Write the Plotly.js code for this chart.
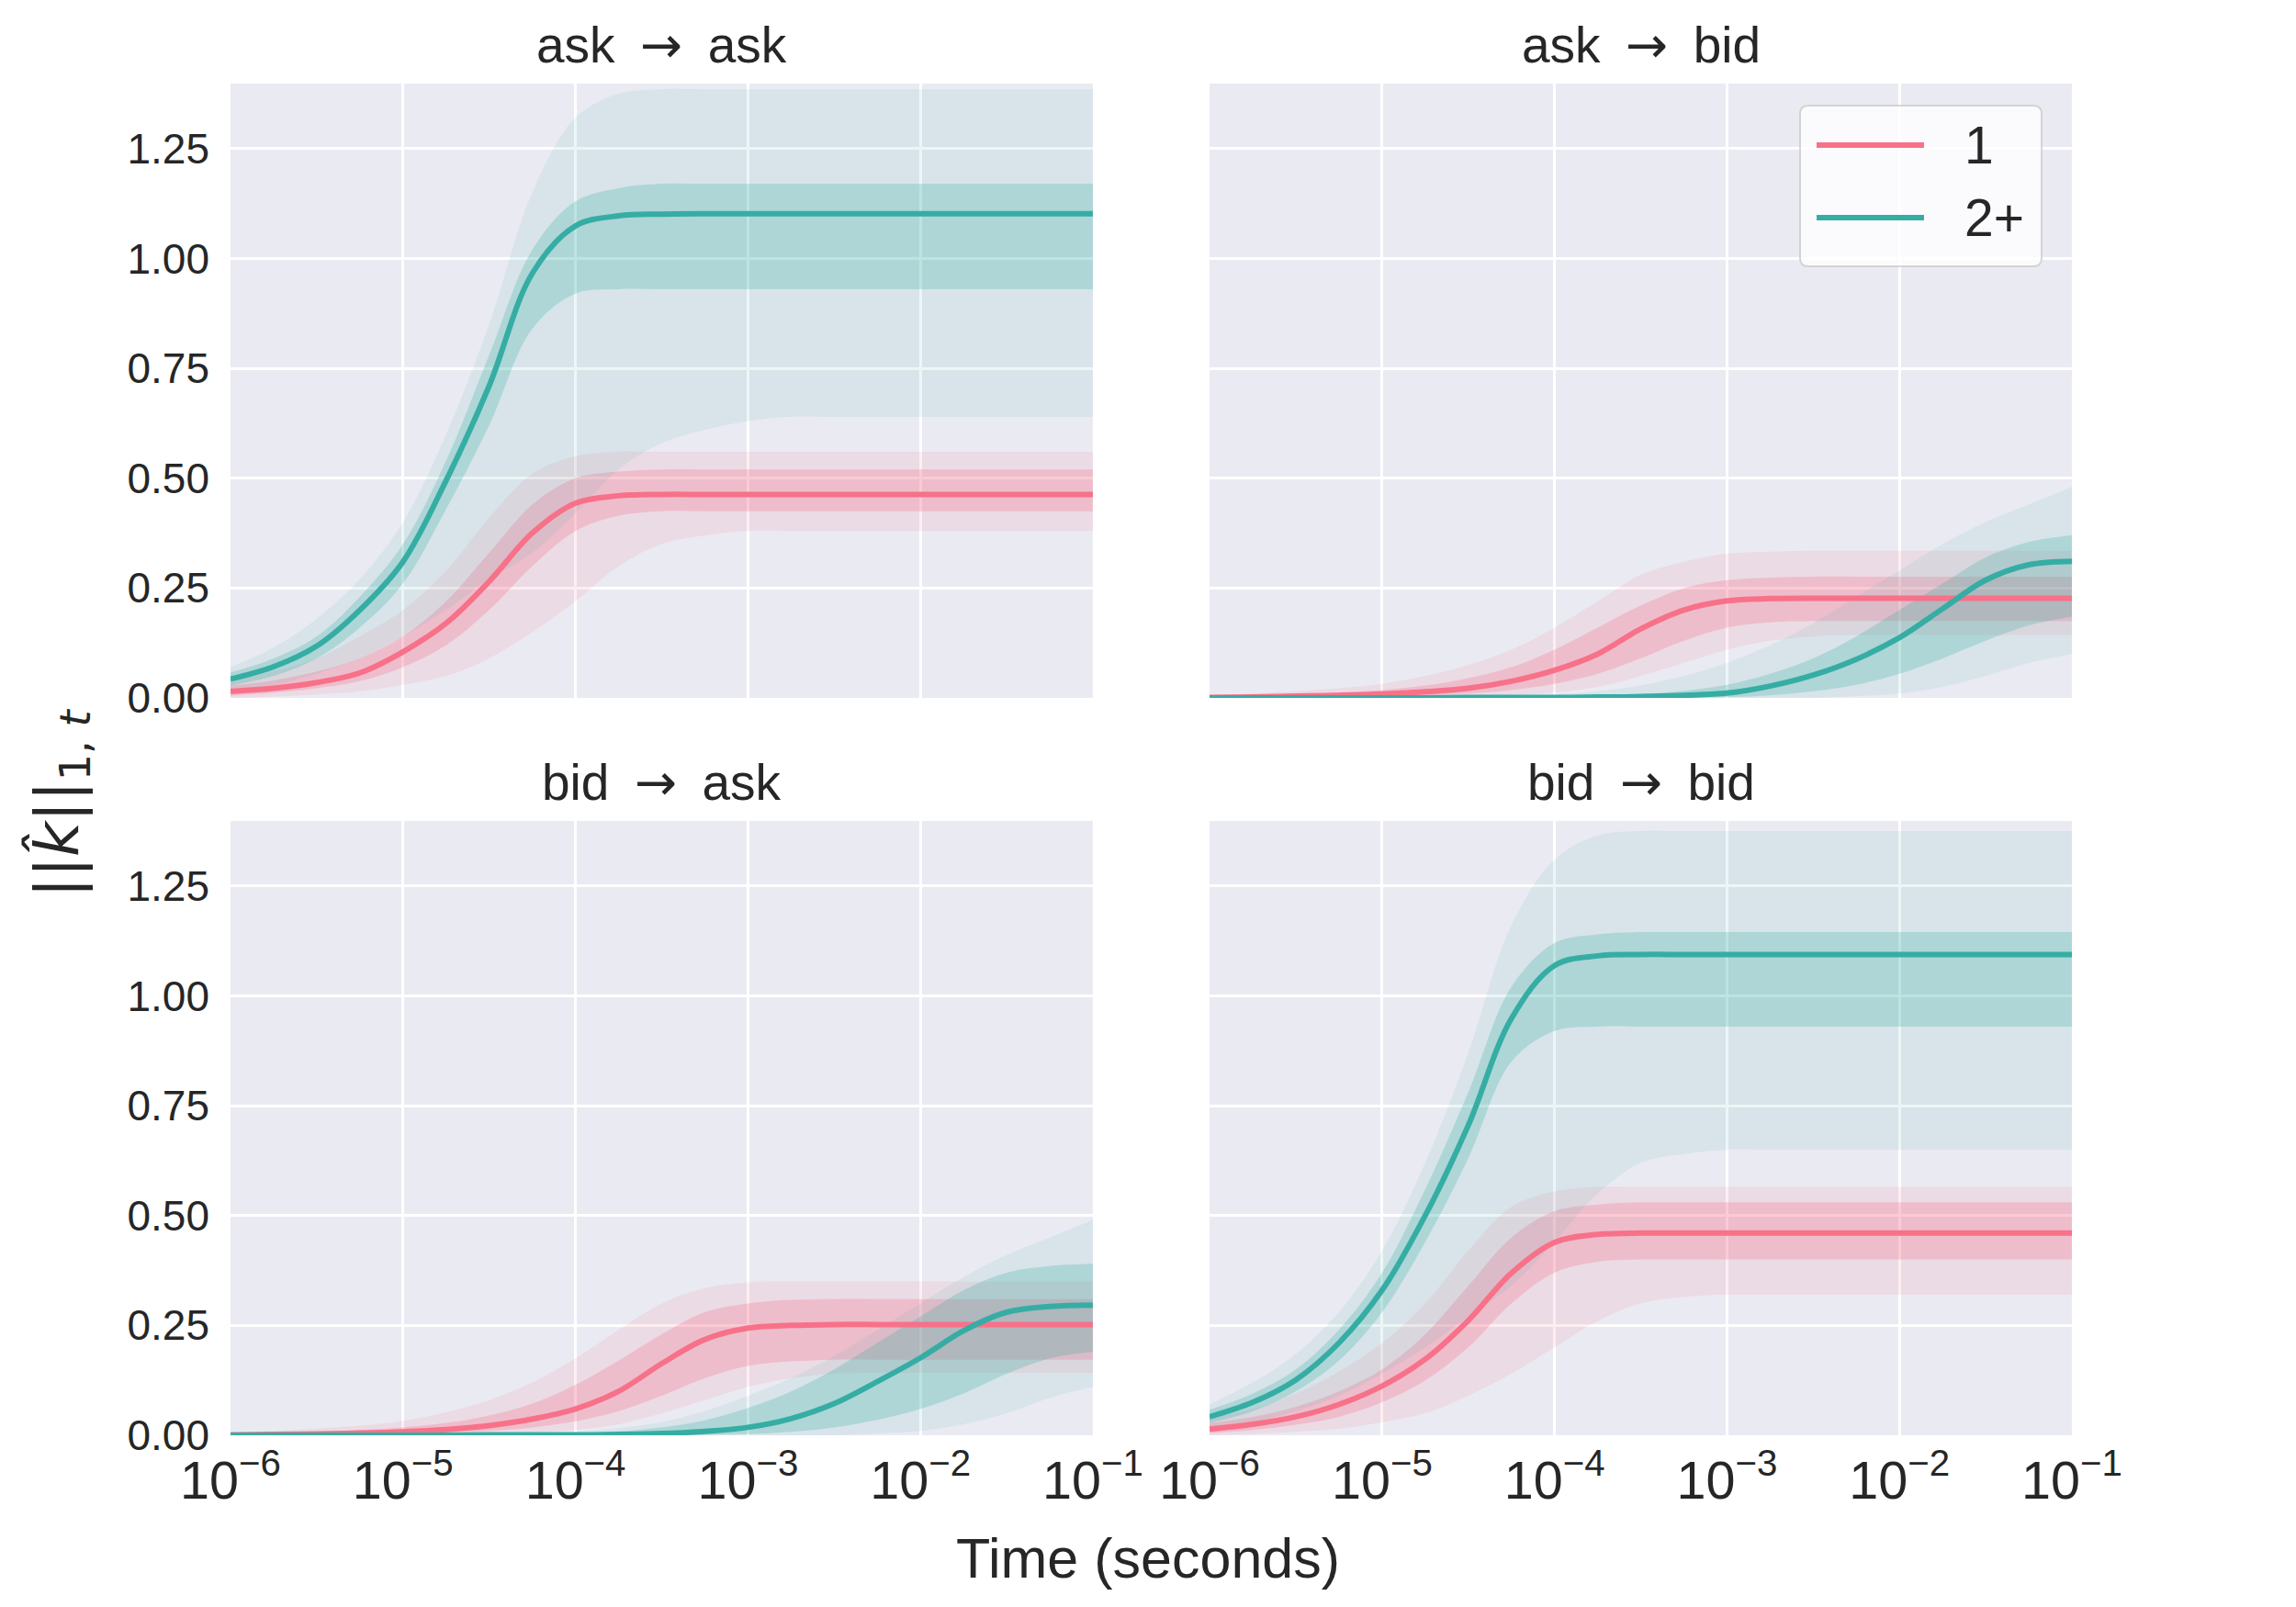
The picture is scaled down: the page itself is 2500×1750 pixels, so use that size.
<!DOCTYPE html>
<html>
<head>
<meta charset="utf-8">
<script src="https://cdn.plot.ly/plotly-3.0.1.min.js"></script>
<style>
  body { margin:0; padding:0; background:#ffffff; }
  #myDiv { width:2500px; height:1750px; }
</style>
</head>
<body>
<div id="myDiv"></div>
<script>
/**************************************************************/
/* data: quarter-decade time grid, 1e-6 .. 1e-1 s */
var time = [1e-6, 1.78e-6, 3.16e-6, 5.62e-6, 1e-5, 1.78e-5, 3.16e-5, 5.62e-5,
            1e-4, 1.78e-4, 3.16e-4, 5.62e-4, 1e-3, 1.78e-3, 3.16e-3, 5.62e-3,
            1e-2, 1.78e-2, 3.16e-2, 5.62e-2, 1e-1];

var panelFrom = ["ask", "ask", "bid", "bid"];
var panelTo = ["ask", "bid", "ask", "bid"];
var seriesNames = ["1", "2+"];

/* ask -> ask */
var aaMean1 = [0.015,0.022,0.035,0.057,0.105,0.170,0.265,0.375,0.443,0.460,0.463,0.463,0.463,0.463,0.463,0.463,0.463,0.463,0.463,0.463,0.463];
var aaCoreLo1 = [0.005,0.012,0.022,0.038,0.070,0.120,0.200,0.300,0.380,0.415,0.425,0.425,0.425,0.425,0.425,0.425,0.425,0.425,0.425,0.425,0.425];
var aaCoreHi1 = [0.028,0.040,0.060,0.090,0.140,0.220,0.330,0.440,0.500,0.515,0.520,0.520,0.520,0.520,0.520,0.520,0.520,0.520,0.520,0.520,0.520];
var aaOutLo1 = [0.000,0.003,0.008,0.015,0.030,0.050,0.090,0.150,0.220,0.300,0.350,0.370,0.380,0.380,0.380,0.380,0.380,0.380,0.380,0.380,0.380];
var aaOutHi1 = [0.040,0.060,0.090,0.140,0.200,0.290,0.410,0.510,0.550,0.560,0.560,0.560,0.560,0.560,0.560,0.560,0.560,0.560,0.560,0.560,0.560];
var aaMean2 = [0.043,0.071,0.118,0.200,0.310,0.495,0.710,0.966,1.074,1.097,1.101,1.102,1.102,1.102,1.102,1.102,1.102,1.102,1.102,1.102,1.102];
var aaCoreLo2 = [0.028,0.050,0.090,0.160,0.260,0.430,0.620,0.840,0.920,0.930,0.930,0.930,0.930,0.930,0.930,0.930,0.930,0.930,0.930,0.930,0.930];
var aaCoreHi2 = [0.058,0.090,0.140,0.230,0.350,0.540,0.780,1.020,1.130,1.160,1.170,1.170,1.170,1.170,1.170,1.170,1.170,1.170,1.170,1.170,1.170];
var aaOutLo2 = [0.015,0.030,0.055,0.090,0.140,0.200,0.270,0.330,0.420,0.520,0.580,0.610,0.630,0.640,0.640,0.640,0.640,0.640,0.640,0.640,0.640];
var aaOutHi2 = [0.070,0.115,0.180,0.270,0.400,0.600,0.850,1.150,1.320,1.375,1.385,1.385,1.385,1.385,1.385,1.385,1.385,1.385,1.385,1.385,1.385];

/* ask -> bid */
var abMean1 = [0.001,0.002,0.004,0.006,0.009,0.014,0.022,0.038,0.063,0.100,0.157,0.200,0.221,0.226,0.227,0.227,0.227,0.227,0.227,0.227,0.227];
var abCoreLo1 = [0.000,0.000,0.001,0.002,0.003,0.005,0.010,0.018,0.032,0.055,0.090,0.130,0.160,0.172,0.175,0.175,0.175,0.175,0.175,0.175,0.175];
var abCoreHi1 = [0.003,0.005,0.008,0.012,0.018,0.028,0.045,0.070,0.110,0.160,0.210,0.250,0.268,0.274,0.276,0.276,0.276,0.276,0.276,0.276,0.276];
var abOutLo1 = [0.000,0.000,0.000,0.000,0.000,0.001,0.003,0.006,0.012,0.025,0.050,0.080,0.110,0.130,0.140,0.143,0.143,0.143,0.143,0.143,0.143];
var abOutHi1 = [0.006,0.010,0.015,0.022,0.032,0.050,0.075,0.110,0.160,0.220,0.280,0.310,0.328,0.333,0.335,0.335,0.335,0.335,0.335,0.335,0.335];
var abMean2 = [0.000,0.000,0.000,0.000,0.000,0.000,0.001,0.001,0.001,0.002,0.003,0.006,0.011,0.027,0.052,0.088,0.137,0.203,0.268,0.303,0.311];
var abCoreLo2 = [0.000,0.000,0.000,0.000,0.000,0.000,0.000,0.000,0.000,0.000,0.000,0.001,0.002,0.006,0.015,0.030,0.055,0.090,0.130,0.165,0.185];
var abCoreHi2 = [0.001,0.001,0.001,0.001,0.001,0.001,0.001,0.002,0.002,0.004,0.008,0.016,0.030,0.055,0.090,0.140,0.200,0.260,0.320,0.355,0.370];
var abOutLo2 = [0.000,0.000,0.000,0.000,0.000,0.000,0.000,0.000,0.000,0.000,0.000,0.000,0.000,0.000,0.000,0.004,0.010,0.025,0.050,0.080,0.100];
var abOutHi2 = [0.001,0.001,0.001,0.001,0.002,0.002,0.003,0.005,0.008,0.015,0.028,0.050,0.080,0.120,0.170,0.230,0.290,0.350,0.400,0.440,0.480];

/* bid -> ask */
var baMean1 = [0.001,0.002,0.003,0.005,0.008,0.013,0.022,0.037,0.060,0.100,0.163,0.218,0.244,0.250,0.252,0.252,0.252,0.252,0.252,0.252,0.252];
var baCoreLo1 = [0.000,0.000,0.001,0.002,0.003,0.005,0.010,0.018,0.032,0.055,0.090,0.130,0.158,0.168,0.172,0.172,0.172,0.172,0.172,0.172,0.172];
var baCoreHi1 = [0.003,0.005,0.008,0.012,0.018,0.028,0.045,0.072,0.115,0.170,0.230,0.280,0.300,0.308,0.310,0.310,0.310,0.310,0.310,0.310,0.310];
var baOutLo1 = [0.000,0.000,0.000,0.000,0.000,0.001,0.003,0.006,0.012,0.025,0.050,0.080,0.110,0.130,0.140,0.142,0.142,0.142,0.142,0.142,0.142];
var baOutHi1 = [0.006,0.010,0.015,0.022,0.033,0.052,0.080,0.120,0.175,0.240,0.300,0.335,0.348,0.350,0.350,0.350,0.350,0.350,0.350,0.350,0.350];
var baMean2 = [0.000,0.000,0.000,0.000,0.000,0.000,0.001,0.001,0.001,0.002,0.004,0.009,0.018,0.038,0.072,0.122,0.176,0.238,0.280,0.293,0.296];
var baCoreLo2 = [0.000,0.000,0.000,0.000,0.000,0.000,0.000,0.000,0.000,0.000,0.000,0.001,0.003,0.008,0.018,0.035,0.060,0.095,0.140,0.175,0.190];
var baCoreHi2 = [0.001,0.001,0.001,0.001,0.001,0.001,0.002,0.002,0.004,0.009,0.018,0.034,0.062,0.100,0.150,0.210,0.270,0.330,0.370,0.385,0.390];
var baOutLo2 = [0.000,0.000,0.000,0.000,0.000,0.000,0.000,0.000,0.000,0.000,0.000,0.000,0.000,0.000,0.000,0.004,0.010,0.025,0.050,0.085,0.110];
var baOutHi2 = [0.001,0.001,0.001,0.001,0.002,0.002,0.003,0.005,0.008,0.016,0.030,0.055,0.090,0.130,0.180,0.240,0.300,0.360,0.410,0.450,0.490];

/* bid -> bid */
var bbMean1 = [0.014,0.025,0.042,0.070,0.112,0.173,0.261,0.369,0.439,0.457,0.460,0.460,0.460,0.460,0.460,0.460,0.460,0.460,0.460,0.460,0.460];
var bbCoreLo1 = [0.005,0.012,0.024,0.042,0.075,0.125,0.200,0.300,0.370,0.395,0.400,0.400,0.400,0.400,0.400,0.400,0.400,0.400,0.400,0.400,0.400];
var bbCoreHi1 = [0.028,0.042,0.065,0.100,0.150,0.230,0.340,0.450,0.510,0.525,0.530,0.530,0.530,0.530,0.530,0.530,0.530,0.530,0.530,0.530,0.530];
var bbOutLo1 = [0.000,0.003,0.008,0.015,0.030,0.050,0.090,0.140,0.200,0.260,0.300,0.315,0.320,0.320,0.320,0.320,0.320,0.320,0.320,0.320,0.320];
var bbOutHi1 = [0.040,0.060,0.095,0.145,0.210,0.300,0.420,0.520,0.555,0.565,0.565,0.565,0.565,0.565,0.565,0.565,0.565,0.565,0.565,0.565,0.565];
var bbMean2 = [0.042,0.075,0.126,0.210,0.330,0.500,0.705,0.948,1.069,1.091,1.094,1.094,1.094,1.094,1.094,1.094,1.094,1.094,1.094,1.094,1.094];
var bbCoreLo2 = [0.028,0.055,0.100,0.170,0.280,0.440,0.630,0.850,0.920,0.930,0.930,0.930,0.930,0.930,0.930,0.930,0.930,0.930,0.930,0.930,0.930];
var bbCoreHi2 = [0.058,0.095,0.150,0.240,0.370,0.560,0.780,1.020,1.120,1.140,1.145,1.145,1.145,1.145,1.145,1.145,1.145,1.145,1.145,1.145,1.145];
var bbOutLo2 = [0.015,0.030,0.055,0.090,0.140,0.200,0.270,0.340,0.440,0.550,0.620,0.640,0.650,0.650,0.650,0.650,0.650,0.650,0.650,0.650,0.650];
var bbOutHi2 = [0.070,0.120,0.185,0.280,0.420,0.620,0.870,1.160,1.310,1.365,1.375,1.375,1.375,1.375,1.375,1.375,1.375,1.375,1.375,1.375,1.375];

var yTicks = [0, 0.25, 0.5, 0.75, 1.0, 1.25];

/**************************************************************/
var pink = [247,113,137];
var teal = [54,173,164];
var textColor = "#262626";
var sansFamily = "Liberation Sans, Arial, sans-serif";
var tickFont = { family: sansFamily, size: 46, color: textColor };

/* figure pixel -> paper fraction (plot area 251..2256 x 91..1563) */
function px(x) { return (x - 251) / 2005; }
function py(y) { return (1563 - y) / 1472; }

function rgba(c, a) {
  return "rgba(" + c[0] + "," + c[1] + "," + c[2] + "," + a + ")";
}

function bandTraces(lo, hi, col, alpha, xa, ya) {
  var base = {
    x: time, y: lo, xaxis: xa, yaxis: ya,
    mode: "lines", type: "scatter",
    line: { width: 0, shape: "spline", smoothing: 1 },
    showlegend: false, hoverinfo: "skip"
  };
  var top = {
    x: time, y: hi, xaxis: xa, yaxis: ya,
    mode: "lines", type: "scatter",
    line: { width: 0, shape: "spline", smoothing: 1 },
    fill: "tonexty", fillcolor: rgba(col, alpha),
    showlegend: false, hoverinfo: "skip"
  };
  return [base, top];
}

function meanTrace(y, col, name, xa, ya) {
  return {
    x: time, y: y, xaxis: xa, yaxis: ya, name: name,
    mode: "lines", type: "scatter",
    line: { color: rgba(col, 1), width: 6, shape: "spline", smoothing: 1 },
    showlegend: false, hoverinfo: "skip"
  };
}

function panelTraces(p, xa, ya) {
  var ret = [];
  ret = ret.concat(bandTraces(p.outLo1, p.outHi1, pink, 0.12, xa, ya));
  ret = ret.concat(bandTraces(p.coreLo1, p.coreHi1, pink, 0.28, xa, ya));
  ret = ret.concat(bandTraces(p.outLo2, p.outHi2, teal, 0.10, xa, ya));
  ret = ret.concat(bandTraces(p.coreLo2, p.coreHi2, teal, 0.26, xa, ya));
  ret.push(meanTrace(p.mean1, pink, seriesNames[0], xa, ya));
  ret.push(meanTrace(p.mean2, teal, seriesNames[1], xa, ya));
  return ret;
}

var panels = [
  { mean1: aaMean1, coreLo1: aaCoreLo1, coreHi1: aaCoreHi1, outLo1: aaOutLo1, outHi1: aaOutHi1,
    mean2: aaMean2, coreLo2: aaCoreLo2, coreHi2: aaCoreHi2, outLo2: aaOutLo2, outHi2: aaOutHi2 },
  { mean1: abMean1, coreLo1: abCoreLo1, coreHi1: abCoreHi1, outLo1: abOutLo1, outHi1: abOutHi1,
    mean2: abMean2, coreLo2: abCoreLo2, coreHi2: abCoreHi2, outLo2: abOutLo2, outHi2: abOutHi2 },
  { mean1: baMean1, coreLo1: baCoreLo1, coreHi1: baCoreHi1, outLo1: baOutLo1, outHi1: baOutHi1,
    mean2: baMean2, coreLo2: baCoreLo2, coreHi2: baCoreHi2, outLo2: baOutLo2, outHi2: baOutHi2 },
  { mean1: bbMean1, coreLo1: bbCoreLo1, coreHi1: bbCoreHi1, outLo1: bbOutLo1, outHi1: bbOutHi1,
    mean2: bbMean2, coreLo2: bbCoreLo2, coreHi2: bbCoreHi2, outLo2: bbOutLo2, outHi2: bbOutHi2 }
];

/**************************************************************/
function xAxis(domain, anchor, showLabels) {
  return {
    type: "log", range: [-6, -1], domain: domain, anchor: anchor,
    dtick: 1, exponentformat: "power", showexponent: "all",
    showticklabels: showLabels, tickfont: tickFont,
    ticks: "", ticklabelstandoff: 10,
    showgrid: true, gridcolor: "#ffffff", gridwidth: 3,
    zeroline: false, showline: false
  };
}

function yAxis(domain, anchor, showLabels) {
  return {
    range: [0, 1.398], domain: domain, anchor: anchor,
    tickvals: yTicks, tickformat: ".2f",
    showticklabels: showLabels, tickfont: tickFont,
    ticks: "", ticklabelstandoff: 22,
    showgrid: true, gridcolor: "#ffffff", gridwidth: 3,
    zeroline: false, showline: false
  };
}

/* legend drawn by hand so the line samples get matplotlib's length */
function legendItems(shapes, ann) {
  var x0 = px(1960), x1 = px(2223), y0 = py(290), y1 = py(115);
  var rx = 9 / 2005, ry = 9 / 1472;
  var path = "M" + (x0 + rx) + "," + y1 + " L" + (x1 - rx) + "," + y1 +
             " Q" + x1 + "," + y1 + " " + x1 + "," + (y1 - ry) +
             " L" + x1 + "," + (y0 + ry) +
             " Q" + x1 + "," + y0 + " " + (x1 - rx) + "," + y0 +
             " L" + (x0 + rx) + "," + y0 +
             " Q" + x0 + "," + y0 + " " + x0 + "," + (y0 + ry) +
             " L" + x0 + "," + (y1 - ry) +
             " Q" + x0 + "," + y1 + " " + (x0 + rx) + "," + y1 + " Z";
  shapes.push({
    type: "path", path: path, xref: "paper", yref: "paper",
    fillcolor: "rgba(255,255,255,0.8)", line: { color: "rgba(204,204,204,0.8)", width: 2 }
  });
  var rows = [158, 237];
  var cols = [pink, teal];
  for (var i = 0; i < 2; i++) {
    shapes.push({
      type: "line", xref: "paper", yref: "paper",
      x0: px(1978), x1: px(2095), y0: py(rows[i]), y1: py(rows[i]),
      line: { color: rgba(cols[i], 1), width: 6 }
    });
    ann.push({
      text: seriesNames[i], xref: "paper", yref: "paper",
      x: px(2137), y: py(rows[i]), xanchor: "left", yanchor: "middle",
      showarrow: false, font: { family: sansFamily, size: 57, color: textColor }
    });
  }
}

function getLayout() {
  var colL = [0, 0.4683], colR = [0.5317, 1];
  var rowT = [0.5455, 1], rowB = [0, 0.4545];
  var titleFont = { family: sansFamily, size: 55, color: textColor };
  var ann = [];
  var shapes = [];
  var centers = [[0.23415, 1], [0.76585, 1], [0.23415, 0.4545], [0.76585, 0.4545]];
  for (var i = 0; i < 4; i++) {
    ann.push({
      text: panelFrom[i] + "\u2002<span style=\"font-family:'DejaVu Sans'\">\u2192</span>\u2002" + panelTo[i],
      xref: "paper", yref: "paper",
      x: centers[i][0], y: centers[i][1], xanchor: "center", yanchor: "bottom",
      yshift: 8, showarrow: false, font: titleFont
    });
  }
  ann.push({
    text: "Time (seconds)", xref: "paper", yref: "paper",
    x: 0.4983, y: -0.091, xanchor: "center", yanchor: "middle",
    showarrow: false,
    font: { family: sansFamily, size: 61, color: textColor }
  });
  ann.push({
    text: "||<i>k\u0302</i>||<sub>1, <i>t</i></sub>", xref: "paper", yref: "paper",
    x: -0.092, y: 0.4674, xanchor: "center", yanchor: "middle",
    textangle: -90, showarrow: false,
    font: { family: "DejaVu Sans, sans-serif", size: 66, color: textColor }
  });
  legendItems(shapes, ann);

  return {
    width: 2500, height: 1750,
    margin: { l: 251, r: 244, t: 91, b: 187, pad: 0 },
    paper_bgcolor: "#ffffff", plot_bgcolor: "#eaeaf2",
    font: { family: sansFamily, color: textColor },
    xaxis: xAxis(colL, "y", false),
    yaxis: yAxis(rowT, "x", true),
    xaxis2: xAxis(colR, "y2", false),
    yaxis2: yAxis(rowT, "x2", false),
    xaxis3: xAxis(colL, "y3", true),
    yaxis3: yAxis(rowB, "x3", true),
    xaxis4: xAxis(colR, "y4", true),
    yaxis4: yAxis(rowB, "x4", false),
    showlegend: false,
    shapes: shapes,
    annotations: ann,
    hovermode: false
  };
}

/**************************************************************/
var data = [];
data = data.concat(panelTraces(panels[0], "x", "y"));
data = data.concat(panelTraces(panels[1], "x2", "y2"));
data = data.concat(panelTraces(panels[2], "x3", "y3"));
data = data.concat(panelTraces(panels[3], "x4", "y4"));

Plotly.newPlot("myDiv", data, getLayout(), { displayModeBar: false, staticPlot: true });
</script>
</body>
</html>
